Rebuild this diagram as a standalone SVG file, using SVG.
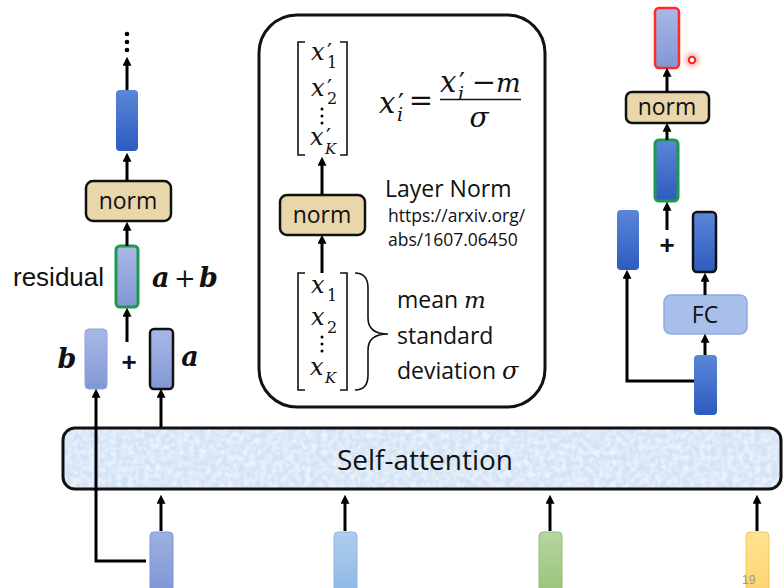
<svg xmlns="http://www.w3.org/2000/svg" width="783" height="588" viewBox="0 0 783 588">
<style>
.ln{fill:none;stroke:#000;stroke-width:3}
.sans{font-family:"Open Sans","Liberation Sans",sans-serif;fill:#111}
.ar{font-family:"Liberation Sans",Arial,sans-serif;fill:#111}
.math{font-family:"DejaVu Serif","Liberation Serif",serif;font-style:italic;fill:#111}
.mr{font-family:"DejaVu Serif","Liberation Serif",serif;fill:#111}
.bm{font-family:"DejaVu Serif","Liberation Serif",serif;font-style:italic;font-weight:bold;fill:#111}
.norm{fill:#e9d6aa;stroke:#111;stroke-width:2.5}
.dark{fill:url(#gDark)}
.light{fill:url(#gLight)}
.br{fill:none;stroke:#111;stroke-width:1.6}
</style>
<defs>
<marker id="ah" viewBox="0 0 10 10" refX="3" refY="5" markerWidth="9" markerHeight="9" markerUnits="userSpaceOnUse" orient="auto">
<path d="M0,0 L10,5 L0,10 z" fill="#000"/>
</marker>
<linearGradient id="gDark" x1="0" y1="0" x2="0" y2="1"><stop offset="0" stop-color="#5b87d8"/><stop offset="1" stop-color="#2d5bbf"/></linearGradient>
<linearGradient id="gLight" x1="0" y1="0" x2="0" y2="1"><stop offset="0" stop-color="#a9b8e5"/><stop offset="1" stop-color="#8197d5"/></linearGradient>
<linearGradient id="gB1" x1="0" y1="0" x2="0" y2="1"><stop offset="0" stop-color="#9eb0e2"/><stop offset="1" stop-color="#7d94d4"/></linearGradient>
<linearGradient id="gB2" x1="0" y1="0" x2="0" y2="1"><stop offset="0" stop-color="#aecdee"/><stop offset="1" stop-color="#8db7e6"/></linearGradient>
<linearGradient id="gB3" x1="0" y1="0" x2="0" y2="1"><stop offset="0" stop-color="#b6d69e"/><stop offset="1" stop-color="#97c279"/></linearGradient>
<linearGradient id="gB4" x1="0" y1="0" x2="0" y2="1"><stop offset="0" stop-color="#ffe393"/><stop offset="1" stop-color="#fdd46c"/></linearGradient>
<filter id="tex" x="0" y="0" width="100%" height="100%">
<feTurbulence type="fractalNoise" baseFrequency="0.18" numOctaves="2" seed="4" result="n"/>
<feColorMatrix in="n" type="matrix" values="0 0 0 0 1 0 0 0 0 1 0 0 0 0 1 0 0 0 -1.3 0.85" result="w"/>
<feComposite in="w" in2="SourceAlpha" operator="in" result="wm"/>
<feMerge><feMergeNode in="SourceGraphic"/><feMergeNode in="wm"/></feMerge>
</filter>
<filter id="glow" x="-100%" y="-100%" width="300%" height="300%"><feGaussianBlur stdDeviation="2.5"/></filter>
</defs>
<rect width="783" height="588" fill="#fff"/>

<!-- Self-attention -->
<g id="self-attention">
<rect x="63" y="428" width="718" height="61" rx="12" fill="#d3e3f6" filter="url(#tex)"/>
<rect x="63" y="428" width="718" height="61" rx="12" fill="none" stroke="#111" stroke-width="3"/>
<text class="sans" x="425" y="470" font-size="28" text-anchor="middle">Self-attention</text>
</g>

<!-- bottom inputs -->
<g id="input1"><rect x="150" y="532" width="23" height="64" rx="4" fill="url(#gB1)" stroke="#7f95d3" stroke-width="1"/></g>
<g id="input2"><rect x="334" y="532" width="23" height="64" rx="4" fill="url(#gB2)" stroke="#8fb6e3" stroke-width="1"/></g>
<g id="input3"><rect x="539" y="532" width="23" height="64" rx="4" fill="url(#gB3)" stroke="#93bd78" stroke-width="1"/></g>
<g id="input4"><rect x="746" y="532" width="23" height="64" rx="4" fill="url(#gB4)" stroke="#f3c95c" stroke-width="1"/></g>
<text x="742" y="584" font-family="Liberation Sans,Arial,sans-serif" font-size="12" fill="#9a9a9a">19</text>

<!-- left column -->
<g id="left-dots"><circle cx="127" cy="34" r="2.3"/><circle cx="127" cy="42" r="2.3"/><circle cx="127" cy="50" r="2.3"/></g>
<g id="left-out"><rect x="116" y="90" width="22" height="61" rx="4" class="dark"/></g>
<g id="left-norm"><rect x="86" y="181" width="85" height="40" rx="7" class="norm"/><text class="sans" x="128" y="209" font-size="23" text-anchor="middle">norm</text></g>
<g id="left-residual"><rect x="116" y="246" width="22" height="61" rx="4" class="light" stroke="#1d9a4e" stroke-width="3"/>
<text class="ar" x="13" y="286" font-size="26">residual</text>
<text class="bm" x="152" y="287" font-size="27">a</text><text class="mr" x="185" y="287" font-size="26" text-anchor="middle">+</text><text class="bm" x="199" y="287" font-size="27">b</text></g>
<g id="left-b"><rect x="85" y="329" width="22" height="60" rx="4" class="light" stroke="#8da2db" stroke-width="1"/><text class="bm" x="67" y="368" font-size="27" text-anchor="middle">b</text></g>
<g id="left-plus"><text class="ar" x="129" y="371" font-size="26" font-weight="bold" text-anchor="middle">+</text></g>
<g id="left-a"><rect x="150" y="329" width="23" height="60" rx="4" class="light" stroke="#111" stroke-width="2.5"/><text class="bm" x="190" y="366" font-size="27" text-anchor="middle">a</text></g>

<!-- middle panel -->
<g id="layer-norm-panel">
<rect x="259" y="15" width="286" height="392" rx="38" fill="#fff" stroke="#111" stroke-width="3"/>
<path class="br" d="M305,42 H298 V155 H305 M340,42 H347 V155 H340"/>
<text class="math" x="311" y="60" font-size="24">x</text><text class="mr" x="327" y="59" font-size="22">′</text><text class="mr" x="327" y="68" font-size="16">1</text>
<text class="math" x="311" y="96" font-size="24">x</text><text class="mr" x="327" y="95" font-size="22">′</text><text class="mr" x="327" y="104" font-size="16">2</text>
<circle cx="322" cy="109" r="1.5"/><circle cx="322" cy="116" r="1.5"/><circle cx="322" cy="123" r="1.5"/>
<text class="math" x="310" y="145" font-size="24">x</text><text class="mr" x="326" y="144" font-size="22">′</text><text class="math" x="325" y="154" font-size="15">K</text>

<text class="math" x="379" y="113" font-size="29">x</text><text class="mr" x="398" y="112" font-size="26">′</text><text class="math" x="397" y="121" font-size="19">i</text>
<text class="mr" x="421" y="110" font-size="29" text-anchor="middle">=</text>
<text class="math" x="440" y="92" font-size="29">x</text><text class="mr" x="459" y="91" font-size="26">′</text><text class="math" x="458" y="100" font-size="19">i</text>
<text class="mr" x="484" y="92" font-size="29" text-anchor="middle">−</text>
<text class="math" x="496" y="92" font-size="26">m</text>
<line x1="440" y1="99.5" x2="521" y2="99.5" stroke="#111" stroke-width="1.6"/>
<text class="math" x="479" y="127" font-size="28" text-anchor="middle">σ</text>

<rect x="280" y="195" width="85" height="40" rx="7" class="norm"/>
<text class="sans" x="322" y="223" font-size="23" text-anchor="middle">norm</text>
<text class="sans" x="385" y="197" font-size="23">Layer Norm</text>
<text class="sans" x="388" y="222" font-size="17.5">https://arxiv.org/</text>
<text class="sans" x="388" y="246" font-size="17.5">abs/1607.06450</text>

<path class="br" d="M305,273 H298 V390 H305 M340,273 H347 V390 H340"/>
<text class="math" x="311" y="293" font-size="24">x</text><text class="mr" x="327" y="301" font-size="16">1</text>
<text class="math" x="311" y="325" font-size="24">x</text><text class="mr" x="327" y="333" font-size="16">2</text>
<circle cx="322" cy="337" r="1.5"/><circle cx="322" cy="344" r="1.5"/><circle cx="322" cy="351" r="1.5"/>
<text class="math" x="310" y="375" font-size="24">x</text><text class="math" x="325" y="383" font-size="15">K</text>
<path class="br" stroke-width="2" d="M355,273 Q368,273 368,288 V318 Q368,334 388,334 Q368,334 368,350 V375 Q368,390 355,390"/>
<text class="sans" x="397" y="308" font-size="23">mean <tspan font-family="DejaVu Serif,Liberation Serif,serif" font-style="italic" font-size="23">m</tspan></text>
<text class="sans" x="397" y="344" font-size="23">standard</text>
<text class="sans" x="397" y="379" font-size="23">deviation <tspan font-family="DejaVu Serif,Liberation Serif,serif" font-style="italic" font-size="24">σ</tspan></text>
</g>

<!-- right column -->
<g id="right-out"><rect x="655" y="8" width="24" height="60" rx="4" class="light" stroke="#ff2a2a" stroke-width="2.5"/></g>
<g id="pointer"><circle cx="692" cy="60" r="7" fill="#ff5050" opacity="0.45" filter="url(#glow)"/><circle cx="692" cy="60" r="3.2" fill="#fff" stroke="#ff2020" stroke-width="2"/></g>
<g id="right-norm"><rect x="626" y="92" width="83" height="31" rx="6" class="norm"/><text class="sans" x="667" y="115" font-size="23" text-anchor="middle">norm</text></g>
<g id="right-sum"><rect x="655" y="140" width="23" height="61" rx="4" class="dark" stroke="#1d9a4e" stroke-width="3"/></g>
<g id="right-plus"><text class="ar" x="667" y="254" font-size="26" font-weight="bold" text-anchor="middle">+</text></g>
<g id="right-skip"><rect x="617" y="210" width="22" height="60" rx="4" class="dark"/></g>
<g id="right-fcout"><rect x="693" y="212" width="23" height="60" rx="4" class="dark" stroke="#111" stroke-width="2.5"/></g>
<g id="right-fc"><rect x="664" y="295" width="83" height="39" rx="7" fill="#a8bfeb" stroke="#8eaade" stroke-width="1.5"/><text class="sans" x="705" y="323" font-size="23" text-anchor="middle">FC</text></g>
<g id="right-in"><rect x="694" y="355" width="23" height="60" rx="4" class="dark"/></g>

<!-- connectors -->
<g id="connectors" class="ln" marker-end="url(#ah)">
<path d="M127,90 V63"/>
<path d="M127,181 V159"/>
<path d="M127,246 V228"/>
<path d="M127,342 V314"/>
<path d="M161,427 V395"/>
<path d="M146,561 H96 V395"/>
<path d="M161,531 V501"/>
<path d="M345,531 V501"/>
<path d="M550,531 V501"/>
<path d="M757,531 V501"/>
<path d="M322,195 V163"/>
<path d="M322,273 V241"/>
<path d="M667,92 V74"/>
<path d="M667,140 V129"/>
<path d="M667,230 V208"/>
<path d="M705,295 V279"/>
<path d="M705,355 V340"/>
<path d="M694,381 H627 V276"/>
</g>
</svg>
